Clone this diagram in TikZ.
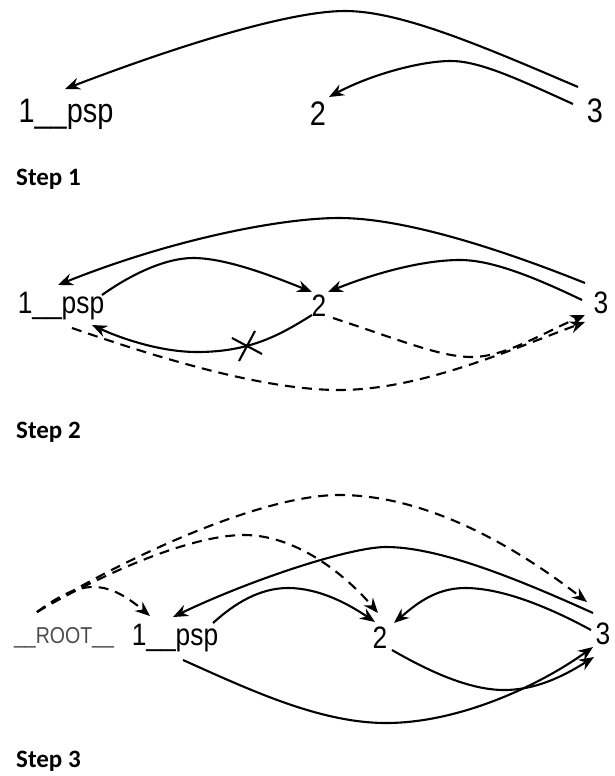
\documentclass[tikz,border=0pt]{standalone}
\usepackage{fontspec}
\usetikzlibrary{arrows.meta,calc,shapes.misc}
\newfontfamily\lblfont[FakeStretch=0.85]{Liberation Sans}
\newfontfamily\stepfont{Carlito}

\begin{document}
\begin{tikzpicture}[x=1pt, y=-1pt,
    word/.style={font=\lblfont\fontsize{31}{35}\selectfont, inner sep=0pt, anchor=base},
    bigword/.style={word, font=\lblfont\fontsize{34}{38}\selectfont},
    rootword/.style={word, font=\lblfont\fontsize{23}{27}\selectfont, text=black!70},
    steplabel/.style={font=\stepfont\bfseries\fontsize{25}{28}\selectfont, inner sep=0pt, anchor=west},
    dep/.style={line width=2.1pt, -{Stealth[length=15pt,width=12pt,inset=5pt]}},
    newdep/.style={dep, dash pattern=on 10pt off 7pt}]
  \useasboundingbox (0,0) rectangle (615,776);

  % step 1
  \node[bigword] (s1psp) at (66,122) {1\_\_psp};
  \node[bigword] (s1two) at (318,125) {2};
  \node[bigword] (s1three) at (595,122) {3};
  \node[steplabel] (step1) at (16,179) {Step 1};
  \draw[dep] ($(s1three.base)+(-17,-35)$) .. controls (480,45) and (400,11) .. (345,11)
    .. controls (290,11) and (180,45) .. ($(s1psp.base)+(-1,-33)$);
  \draw[dep] ($(s1three.base)+(-22,-18)$) .. controls (520,80) and (480,61) .. (451,61)
    .. controls (420,61) and (370,75) .. ($(s1two.base)+(11,-28)$);

  % step 2
  \node[word] (s2psp) at (61,313) {1\_\_psp};
  \node[word] (s2two) at (319,316) {2};
  \node[word] (s2three) at (601,313) {3};
  \node[steplabel] (step2) at (16,432) {Step 2};
  \draw[dep] ($(s2three.base)+(-16,-30)$) .. controls (490,245) and (400,218) .. (339,218)
    .. controls (280,218) and (170,240) .. ($(s2psp.base)+(-3,-28)$);
  \draw[dep] ($(s2psp.base)+(41,-18)$) .. controls (130,275) and (165,258) .. (193,258)
    .. controls (225,258) and (270,275) .. ($(s2two.base)+(-7,-24)$);
  \draw[dep] ($(s2three.base)+(-19,-13)$) .. controls (530,275) and (490,260) .. (460,260)
    .. controls (420,260) and (370,275) .. ($(s2two.base)+(9,-24)$);
  \draw[dep] ($(s2two.base)+(-7,-1)$) .. controls (280,335) and (250,352) .. (197,352)
    .. controls (160,352) and (120,338) .. ($(s2psp.base)+(31,12)$);
  \node[draw, cross out, minimum size=22pt, inner sep=0pt, rotate=17, line width=2.1pt] (cut) at (247,346) {};
  \draw[newdep] ($(s2two.base)+(14,2)$) .. controls (400,340) and (440,357) .. (472,357)
    .. controls (505,357) and (545,332) .. ($(s2three.base)+(-16,2)$);
  \draw[newdep] ($(s2psp.base)+(11,15)$) .. controls (150,355) and (260,390) .. (339,390)
    .. controls (420,390) and (510,350) .. ($(s2three.base)+(-16,9)$);

  % step 3
  \node[rootword] (root) at (64,643) {\_\_ROOT\_\_};
  \node[word] (s3psp) at (175,645) {1\_\_psp};
  \node[word] (s3two) at (380,648) {2};
  \node[word] (s3three) at (603,644) {3};
  \node[steplabel] (step3) at (16,761) {Step 3};
  \draw[newdep] ($(root.base)+(-27,-31)$) .. controls (120,560) and (260,495) .. (339,495)
    .. controls (430,495) and (520,550) .. ($(s3three.base)+(-16,-42)$);
  \draw[newdep] ($(root.base)+(-27,-31)$) .. controls (100,575) and (190,535) .. (244,535)
    .. controls (300,535) and (350,580) .. ($(s3two.base)+(-2,-35)$);
  \draw[newdep] ($(root.base)+(-27,-31)$) .. controls (80,580) and (105,578) .. ($(s3psp.base)+(-25,-29)$);
  \draw[dep] ($(s3three.base)+(-10,-31)$) .. controls (520,580) and (440,547) .. (386,547)
    .. controls (350,547) and (250,580) .. ($(s3psp.base)+(-2,-28)$);
  \draw[dep] ($(s3psp.base)+(38,-22)$) .. controls (235,603) and (260,588) .. (288,588)
    .. controls (320,588) and (350,605) .. ($(s3two.base)+(-5,-26)$);
  \draw[dep] ($(s3three.base)+(-12,-14)$) .. controls (545,605) and (500,588) .. (465,588)
    .. controls (435,588) and (415,605) .. ($(s3two.base)+(14,-25)$);
  \draw[dep] ($(s3two.base)+(12,2)$) .. controls (430,672) and (470,690) .. (504,690)
    .. controls (540,690) and (570,672) .. ($(s3three.base)+(-9,13)$);
  \draw[dep] ($(s3psp.base)+(8,15)$) .. controls (250,690) and (320,723) .. (386,723)
    .. controls (460,723) and (540,685) .. ($(s3three.base)+(-10,3)$);
\end{tikzpicture}
\end{document}
